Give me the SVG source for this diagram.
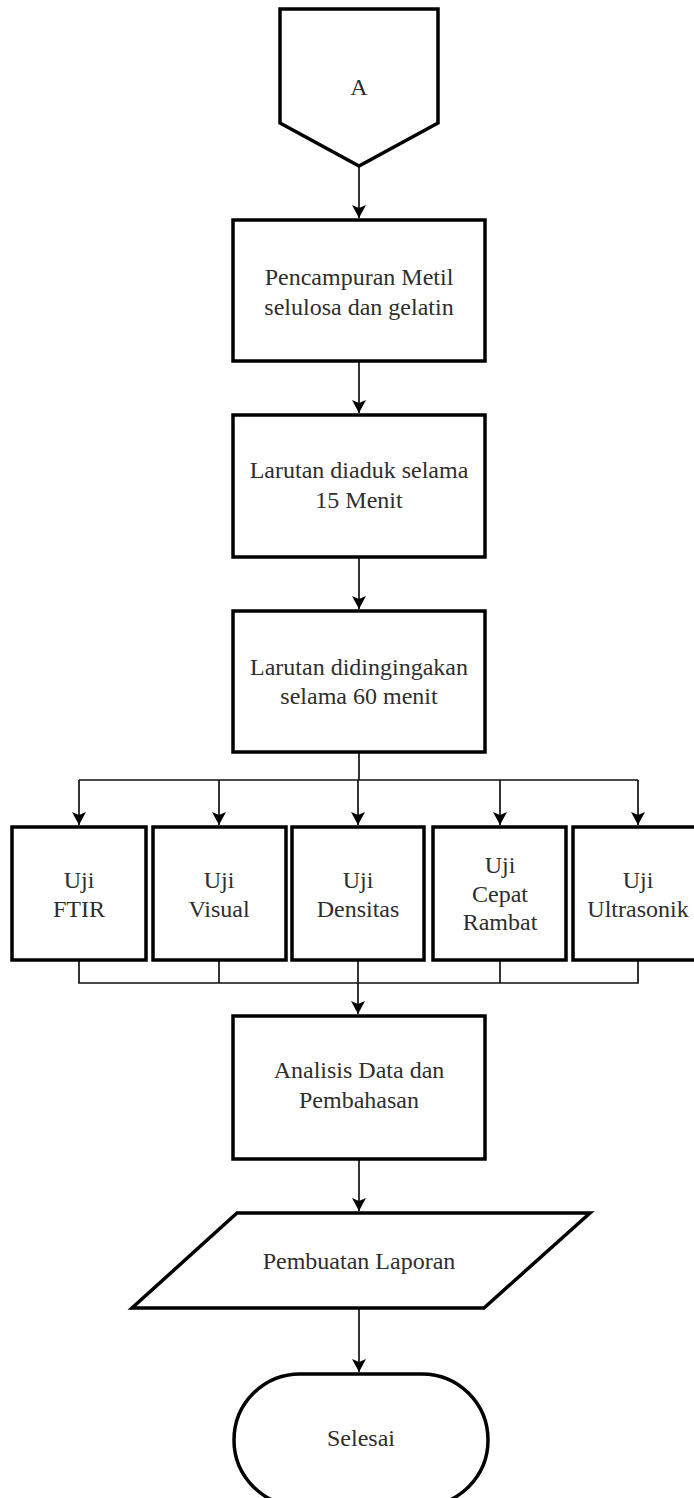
<svg xmlns="http://www.w3.org/2000/svg" width="694" height="1498" viewBox="0 0 694 1498">
<style>
.s{fill:#fff;stroke:#000;stroke-width:3.5}
.t{font-family:'Liberation Serif','DejaVu Serif',serif;font-size:24px;fill:#2e2e2e;text-anchor:middle}
.c{fill:none;stroke:#111;stroke-width:1.7}
</style>
<defs>
<marker id="ah" markerWidth="14" markerHeight="14" refX="13" refY="7" orient="auto" markerUnits="userSpaceOnUse">
<path d="M0,0 L13,7 L0,14 L3,7 Z" fill="#000"/>
</marker>
</defs>
<rect width="694" height="1498" fill="#fff"/>
<g id="connectors">
<path class="c" d="M359,166 V218" marker-end="url(#ah)"/>
<path class="c" d="M359,361 V413" marker-end="url(#ah)"/>
<path class="c" d="M359,557 V609" marker-end="url(#ah)"/>
<path class="c" d="M359,752 V780"/>
<path class="c" d="M79,780 H638"/>
<path class="c" d="M79,780 V825" marker-end="url(#ah)"/>
<path class="c" d="M219,780 V825" marker-end="url(#ah)"/>
<path class="c" d="M358,780 V825" marker-end="url(#ah)"/>
<path class="c" d="M500,780 V825" marker-end="url(#ah)"/>
<path class="c" d="M638,780 V825" marker-end="url(#ah)"/>
<path class="c" d="M79,960 V983 H638 V960"/>
<path class="c" d="M219,960 V983"/>
<path class="c" d="M500,960 V983"/>
<path class="c" d="M358,960 V1014" marker-end="url(#ah)"/>
<path class="c" d="M359,1159 V1211" marker-end="url(#ah)"/>
<path class="c" d="M359,1308 V1372" marker-end="url(#ah)"/>
</g>
<g id="nodeA">
<polygon class="s" points="280,9 438,9 438,123 359,166 280,123"/>
<text class="t" x="359" y="95">A</text>
</g>
<g id="node1">
<rect class="s" x="233" y="220" width="252" height="141"/>
<text class="t" x="359" y="285">Pencampuran Metil</text>
<text class="t" x="359" y="315">selulosa dan gelatin</text>
</g>
<g id="node2">
<rect class="s" x="233" y="415" width="252" height="142"/>
<text class="t" x="359" y="478">Larutan diaduk selama</text>
<text class="t" x="359" y="508">15 Menit</text>
</g>
<g id="node3">
<rect class="s" x="233" y="611" width="252" height="141"/>
<text class="t" x="359" y="675">Larutan didingingakan</text>
<text class="t" x="359" y="704">selama 60 menit</text>
</g>
<g id="ujiFTIR">
<rect class="s" x="12" y="827" width="134" height="133"/>
<text class="t" x="79" y="888">Uji</text>
<text class="t" x="79" y="917">FTIR</text>
</g>
<g id="ujiVisual">
<rect class="s" x="153" y="827" width="133" height="133"/>
<text class="t" x="219" y="888">Uji</text>
<text class="t" x="219" y="917">Visual</text>
</g>
<g id="ujiDensitas">
<rect class="s" x="292" y="827" width="132" height="133"/>
<text class="t" x="358" y="888">Uji</text>
<text class="t" x="358" y="917">Densitas</text>
</g>
<g id="ujiCepatRambat">
<rect class="s" x="433" y="827" width="133" height="133"/>
<text class="t" x="500" y="873">Uji</text>
<text class="t" x="500" y="902">Cepat</text>
<text class="t" x="500" y="930">Rambat</text>
</g>
<g id="ujiUltrasonik">
<rect class="s" x="573" y="827" width="130" height="133"/>
<text class="t" x="638" y="888">Uji</text>
<text class="t" x="638" y="917">Ultrasonik</text>
</g>
<g id="analisis">
<rect class="s" x="233" y="1016" width="252" height="143"/>
<text class="t" x="359" y="1078">Analisis Data dan</text>
<text class="t" x="359" y="1108">Pembahasan</text>
</g>
<g id="laporan">
<polygon class="s" points="237,1213 590,1213 484,1308 132,1308"/>
<text class="t" x="359" y="1269">Pembuatan Laporan</text>
</g>
<g id="selesai">
<rect class="s" x="234" y="1374" width="254" height="132" rx="66" ry="66"/>
<text class="t" x="361" y="1446">Selesai</text>
</g>
</svg>
